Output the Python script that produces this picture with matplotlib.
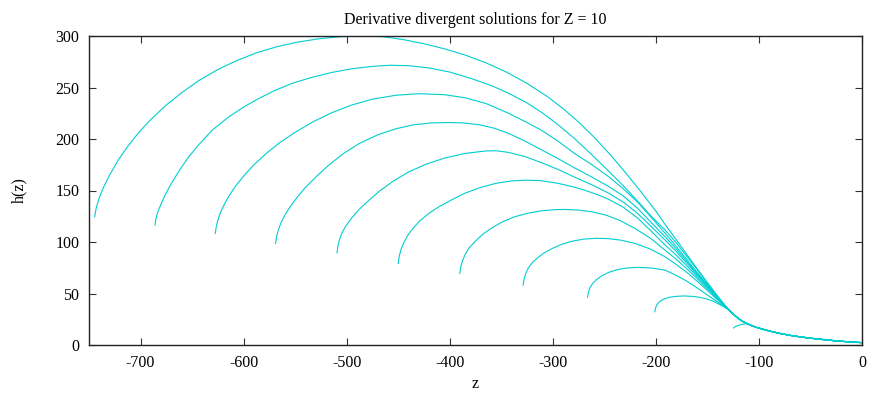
import numpy as np
import matplotlib
matplotlib.use('Agg')
import matplotlib.pyplot as plt

plt.rcParams['font.family'] = ['Liberation Serif', 'DejaVu Serif']
plt.rcParams['axes.unicode_minus'] = False

# common tail that every solution falls onto
tail_z = [-127, -123, -120, -115, -110, -105, -100, -90, -80, -70, -60, -50, -40, -30, -20, -10, 0]
tail_h = [32, 28.3, 25.8, 22.5, 20, 18, 16.4, 13.6, 11.3, 9.4, 7.9, 6.6, 5.5, 4.5, 3.6, 2.9, 2.3]

# each solution up to the point where it joins the tail
c1_z = [-744.5, -743, -740, -736, -730, -722, -713, -702, -690, -675, -660, -643, -625, -607, -588, -568,
        -548, -527, -506, -485, -465, -445, -425, -405, -385, -365, -345, -325, -305, -290, -275, -260,
        -245, -230, -215, -200, -191, -180, -170, -160, -150, -142, -136, -131]
c1_h = [124.5, 133, 143, 153, 165, 179, 192, 206, 219, 233, 245, 257, 267.5, 276, 283.5, 289.5,
        294, 297.3, 299.3, 300, 299.3, 296.5, 292.5, 287.5, 281.5, 274, 265, 254, 241, 229.5, 216.5, 201.8,
        185.6, 168, 149.4, 130, 117, 102, 88, 74, 60.5, 50, 42.2, 36.3]

c2_z = [-686, -685, -683, -680, -676, -670, -662, -653, -643, -630, -615, -600, -585, -570, -553, -535,
        -515, -495, -475, -458, -440, -420, -400, -380, -360, -343, -325, -311, -295, -279, -263, -246,
        -232, -218, -205, -191, -180, -170, -160, -150, -142, -136, -131]
c2_h = [116.4, 123, 130, 137, 146, 157, 170, 183, 195, 209, 221, 231, 239.5, 247, 254, 259.5,
        264.5, 268.2, 270.5, 271.6, 271.2, 269, 265, 259, 252, 244.5, 235, 226, 214, 200.5, 185.5, 169,
        155, 140, 125.5, 111.6, 99, 86, 73.3, 60, 49.5, 42, 36.2]

c3_z = [-627.5, -626.5, -625, -622.5, -619, -614, -608, -600, -590, -578, -565, -550, -533, -515, -495,
        -475, -452, -429, -405, -385, -365, -343, -325, -311, -295, -279, -262, -246, -232, -218, -205,
        -191, -180, -170, -160, -150, -142, -136, -131]
c3_h = [108.3, 115, 121, 128.5, 136, 145, 154, 164, 175, 186, 196.5, 206.5, 216.5, 225.3, 233,
        238.7, 242.5, 244, 243, 240, 234.5, 225, 216, 208.5, 198, 186, 175, 163.5, 152, 139, 124.5,
        108.4, 95.5, 83, 70.5, 58.5, 48.5, 41.5, 36.1]

c4_z = [-569, -568, -566.5, -564, -560, -555, -548, -540, -530, -517, -503, -488, -470, -452, -435, -418,
        -400, -387, -371, -357, -343, -327, -311, -295, -279, -262, -246, -232, -218, -205, -191, -180,
        -170, -160, -150, -142, -136, -131]
c4_h = [98.6, 105, 111, 118, 126, 134, 143.5, 153, 163, 175, 186, 195.5, 204, 210, 213.8, 215.6,
        216, 215.6, 213.8, 210.5, 205.5, 198, 189.5, 181, 172, 163, 154, 145, 133, 119.5, 105, 93,
        81.3, 69.3, 57.7, 48.2, 41.3, 36]

c5_z = [-509.4, -508.5, -507, -504.5, -500.5, -495, -488, -479, -468, -455, -440, -423, -405, -385, -365,
        -355, -343, -327, -311, -295, -279, -262, -246, -232, -218, -205, -191, -180, -170, -160, -150,
        -142, -136, -131]
c5_h = [89.5, 96, 102, 109, 116, 123.5, 131.5, 140, 149.5, 159, 168, 175.5, 181.5, 186, 188.4,
        188.6, 187, 183, 177, 170.5, 163, 155.5, 147.5, 139, 128, 115.5, 101.8, 90.5, 79.5, 68, 57,
        47.8, 41.1, 35.9]

c6_z = [-450, -449, -447.5, -445, -441, -436, -429, -420, -410, -398, -385, -370, -355, -340, -327, -312,
        -295, -280, -269, -255, -246, -232, -218, -205, -191, -180, -170, -160, -150, -142, -136, -131]
c6_h = [79.2, 86, 92, 98.5, 106, 113, 120.5, 128, 134.5, 141, 147.5, 153, 157, 159.3, 160, 159.6,
        157, 153.5, 150.3, 145.3, 141.5, 134, 123.5, 111, 97, 87, 77, 66.5, 56, 47.3, 40.8, 35.8]

c7_z = [-390.3, -389.3, -387.5, -385, -381, -375, -368, -359.5, -349, -337, -324, -311, -298, -288, -275,
        -262, -248, -234, -220, -205, -191, -180, -170, -160, -150, -142, -136, -131]
c7_h = [69.5, 76, 82, 88, 94.5, 101, 107.5, 113.5, 119.5, 124.5, 128, 130.3, 131.4, 131.6, 131,
        129.3, 126, 120.5, 113, 103.5, 92, 83, 74, 64.5, 54.5, 46.5, 40.4, 35.7]

c8_z = [-328.8, -328, -326.5, -324, -320, -315, -309, -301, -292, -282, -270, -258, -246, -234, -220,
        -205, -191, -180, -170, -160, -150, -142, -136, -131]
c8_h = [58, 63.5, 69, 74.4, 79.8, 84.5, 89, 93.5, 97.5, 100.6, 102.8, 103.6, 103.3, 101.8, 98.6,
        93, 85.6, 78, 70.5, 62, 53, 45.5, 40, 35.6]

c9_z = [-266.3, -265.5, -264, -261.5, -257.5, -252, -245, -237, -228, -217, -204, -191, -180, -170, -160,
        -150, -142, -136, -131]
c9_h = [46.3, 51, 55.5, 59.5, 63.5, 67.5, 70.8, 73.2, 74.8, 75.4, 74.7, 72.7, 67.5, 62, 55.5,
        48.5, 43, 38.8, 35.3]

c10_z = [-201, -200.3, -199, -196.5, -192.5, -187, -180, -172, -164, -157, -150, -144, -139, -135, -131]
c10_h = [32.3, 36, 39, 42, 44.5, 46.3, 47.3, 47.6, 47.2, 46.2, 44.5, 42.3, 39.8, 37.6, 35.2]

c11_z = [-124.5, -123.5, -122, -120, -117.5, -115, -112]
c11_h = [16.5, 17.4, 18.3, 19.1, 19.8, 20.3, 20.6]

heads = [(c1_z, c1_h), (c2_z, c2_h), (c3_z, c3_h), (c4_z, c4_h), (c5_z, c5_h), (c6_z, c6_h),
         (c7_z, c7_h), (c8_z, c8_h), (c9_z, c9_h), (c10_z, c10_h), (c11_z, c11_h)]

x_ticks = [-700, -600, -500, -400, -300, -200, -100, 0]
y_ticks = [0, 50, 100, 150, 200, 250, 300]

line_color = '#00ced1'

fig = plt.figure(figsize=(8.69, 3.99), dpi=100)
ax = fig.add_axes([89 / 869, 1 - 345 / 399, (862 - 89) / 869, (345 - 36) / 399])

tz = np.array(tail_z, dtype=float)
th = np.array(tail_h, dtype=float)
for hz, hh in heads:
    keep = tz > hz[-1]
    z = np.concatenate([hz, tz[keep]])
    h = np.concatenate([hh, th[keep]])
    ax.plot(z, h, color=line_color, lw=0.8, solid_joinstyle='round')

ax.set_xlim(-750, 0)
ax.set_ylim(0, 300)
ax.set_xticks(x_ticks)
ax.set_yticks(y_ticks)
ax.tick_params(direction='in', length=5, width=0.8, top=True, right=True,
               labelsize=11.5, pad=7, color='#333333')
for s in ax.spines.values():
    s.set_linewidth(1.0)
    s.set_color('#222222')

ax.set_title('Derivative divergent solutions for Z = 10', fontsize=11.5, pad=9)
ax.set_xlabel('z', fontsize=11.5, labelpad=4)
ax.set_ylabel('h(z)', fontsize=11.5, labelpad=20)

fig.savefig('out.png', dpi=100)
